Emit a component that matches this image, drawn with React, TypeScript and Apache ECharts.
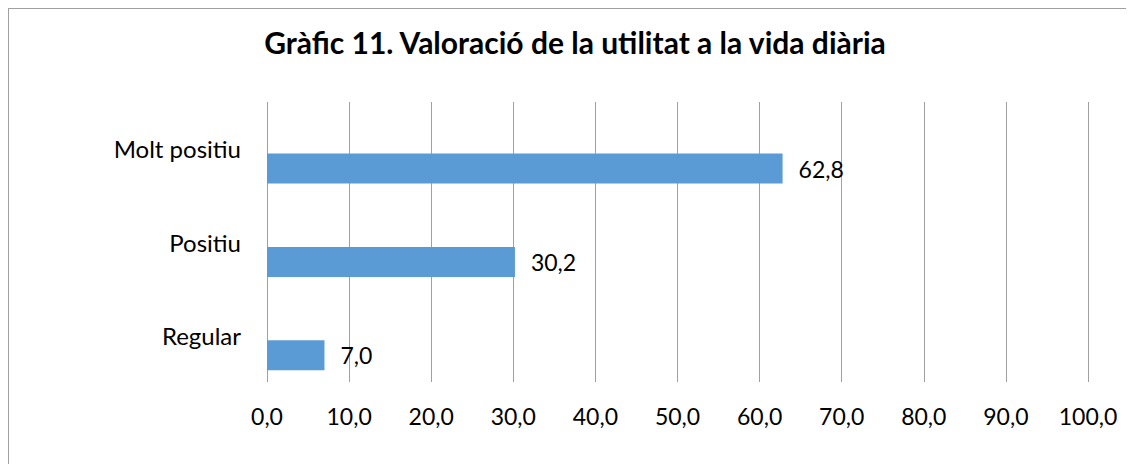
import React, { useEffect, useRef } from "react";
import * as echarts from "echarts";

const titleText = "Gràfic 11. Valoració de la utilitat a la vida diària";
const categories = ["Regular", "Positiu", "Molt positiu"];
const values = [7.0, 30.2, 62.8];
const xMin = 0;
const xMax = 100;
const xInterval = 10;

const FONT = "Lato";

export default function App() {
  const ref = useRef<HTMLDivElement>(null);
  useEffect(() => {
    if (!ref.current) return;
    const chart = echarts.init(ref.current, undefined, { renderer: "svg" });
    const fmt = (v: number) => v.toFixed(1).replace(".", ",");
    chart.setOption({
      animation: false,
      backgroundColor: "#ffffff",
      graphic: [
        {
          type: "text",
          x: 566,
          y: 33,
          style: {
            text: titleText,
            font: `bold 30px ${FONT}`,
            fill: "#000000",
            textAlign: "center",
            textVerticalAlign: "middle",
          },
        },
      ],
      grid: { left: 258, right: 38, top: 93, bottom: 82, containLabel: false },
      xAxis: {
        type: "value",
        min: xMin,
        max: xMax,
        interval: xInterval,
        axisLine: { show: false },
        axisTick: { show: false },
        axisLabel: {
          formatter: (v: number) => fmt(v),
          fontFamily: FONT,
          fontSize: 23,
          color: "#000000",
          margin: 22,
        },
        splitLine: { show: true, lineStyle: { color: "#a0a0a0", width: 1 } },
      },
      yAxis: {
        type: "category",
        data: categories,
        axisLine: { show: false },
        axisTick: { show: false },
        axisLabel: {
          fontFamily: FONT,
          fontSize: 24,
          color: "#000000",
          margin: 26,
          padding: [0, 0, 4, 0],
        },
        splitLine: { show: false },
      },
      series: [
        {
          type: "bar",
          name: "empty",
          data: [],
          barWidth: 30,
          barGap: "33%",
        },
        {
          type: "bar",
          name: "valor",
          data: values,
          barWidth: 30,
          barGap: "33%",
          itemStyle: { color: "#5b9bd5" },
          label: {
            show: true,
            position: "right",
            distance: 16,
            formatter: (p: any) => fmt(p.value),
            fontFamily: FONT,
            fontSize: 23,
            color: "#000000",
          },
        },
      ],
    });
    return () => chart.dispose();
  }, []);
  return (
    <div
      style={{
        width: 1118,
        height: 456,
        boxSizing: "border-box",
        borderTop: "1px solid #a0a0a0",
        borderLeft: "1px solid #a0a0a0",
      }}
    >
      <div ref={ref} style={{ width: 1117, height: 455 }} />
    </div>
  );
}
